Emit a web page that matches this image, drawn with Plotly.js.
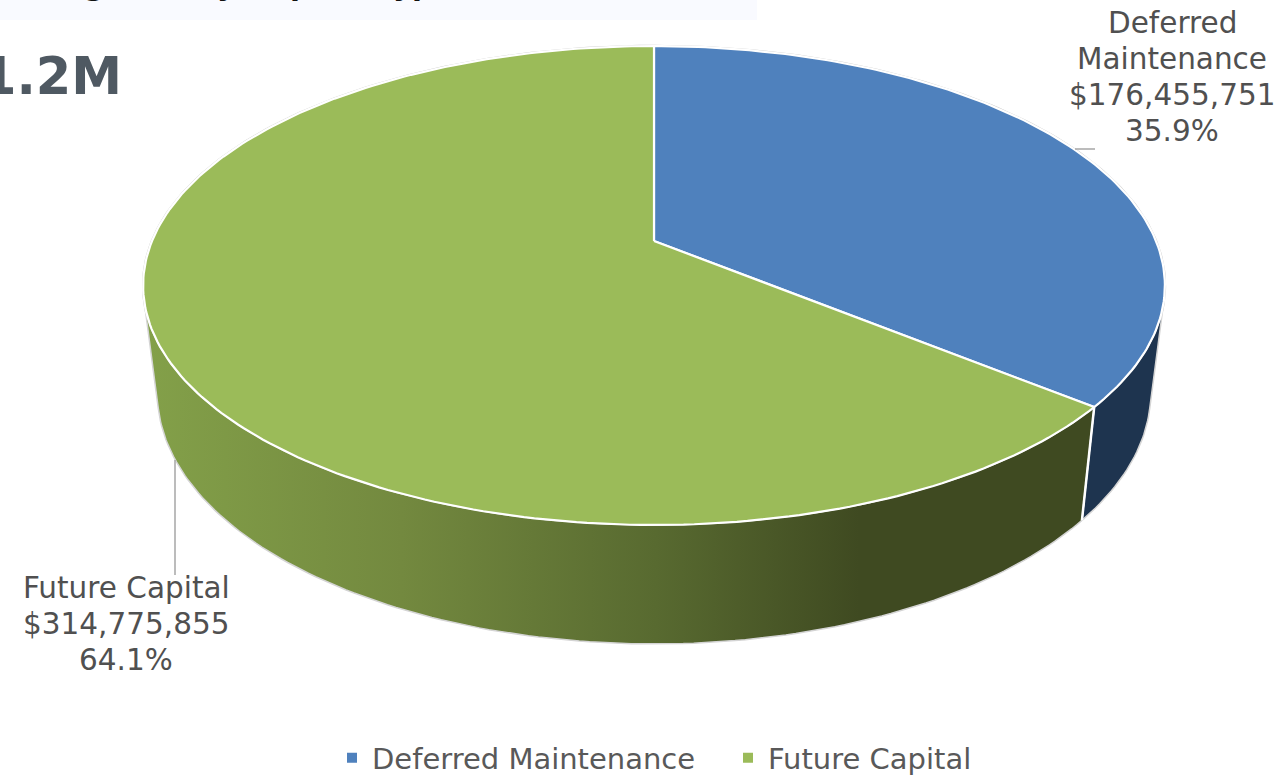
<!DOCTYPE html>
<html>
<head>
<meta charset="utf-8">
<script src="https://cdn.plot.ly/plotly-3.0.1.min.js"></script>
<style>html,body{margin:0;padding:0;background:#fff;overflow:hidden;height:778px}</style>
</head>
<body>
<div id="chart" style="width:1281px;height:820px"></div>
<script>
// Funding split by category
const categories = ["Deferred Maintenance", "Future Capital"];
const amounts = [176455751, 314775855];
const labelLines = [["Deferred", "Maintenance"], ["Future Capital"]];
const headlineText = "1.2M";
const bannerGlyphs = ["g", "y", "p", "yp"];

const total = amounts.reduce((a, b) => a + b, 0);
const font = "'DejaVu Sans', Verdana, sans-serif";
const textGrey = "#505050";

// The figure runs a little past the page's lower edge so the key keeps its place without pushing the plot
const figW = 1281, figH = 820;

// Tilted disc: perspective projection of a unit circle (angle clockwise from 12 o'clock)
const tilt = 0.1858;
const topDisc = {cx: 654, s: 502, y0: 241, c: 186.45};
const baseDisc = {cx: 654, s: 488, y0: 346.5, c: 177.8};
// Angles at which the wall silhouette leaves the discs
const wallStart = 104, wallEnd = 256;

function project(disc, deg) {
  const t = deg * Math.PI / 180, w = 1 + tilt * Math.cos(t);
  return [disc.cx + disc.s * Math.sin(t) / w, (disc.y0 - disc.c * Math.cos(t)) / w];
}
function arc(disc, from, to) {
  const xs = [], ys = [];
  const n = Math.max(2, Math.ceil(Math.abs(to - from)));
  for (let i = 0; i <= n; i++) {
    const p = project(disc, from + (to - from) * i / n);
    xs.push(p[0]); ys.push(p[1]);
  }
  return [xs, ys];
}

const split = 360 * amounts[0] / total;

function sideWall(from, to) {
  const a = arc(topDisc, from, to), b = arc(baseDisc, to, from);
  return [a[0].concat(b[0], [a[0][0]]), a[1].concat(b[1], [a[1][0]])];
}
function topSlice(from, to) {
  const a = arc(topDisc, from, to);
  return [[topDisc.cx].concat(a[0], [topDisc.cx]), [topDisc.y0].concat(a[1], [topDisc.y0])];
}

const traces = [];
const skip = {showlegend: false, hoverinfo: "skip"};

// Soft rim around the whole silhouette
const rim = arc(topDisc, 0, 360);
traces.push({type: "scatter", mode: "lines", x: rim[0], y: rim[1], line: {color: "#c9c9c9", width: 2.5}, ...skip});

// Side walls
const wallBlue = sideWall(wallStart, split);
traces.push({type: "scatter", mode: "lines", x: wallBlue[0], y: wallBlue[1], fill: "toself",
  fillcolor: "#1e344f", line: {color: "#d4d4d4", width: 1.5}, ...skip});
const wallGreen = sideWall(split, wallEnd);
traces.push({type: "scatter", mode: "lines", x: wallGreen[0], y: wallGreen[1], fill: "toself",
  fillgradient: {type: "horizontal", start: 147, stop: 1090,
    colorscale: [[0, "#83a049"], [0.27, "#73893f"], [0.54, "#586a30"], [0.755, "#3f4a21"], [1, "#3f4a21"]]},
  line: {color: "#d4d4d4", width: 1.5}, ...skip});

// White edge between the two walls
const eA = project(topDisc, split), eB = project(baseDisc, split);
traces.push({type: "scatter", mode: "lines", x: [eA[0], eB[0]], y: [eA[1], eB[1]],
  line: {color: "#ffffff", width: 2.5}, ...skip});

// Top faces
const faceBlue = topSlice(0, split), faceGreen = topSlice(split, 360);
traces.push({type: "scatter", mode: "lines", x: faceBlue[0], y: faceBlue[1], fill: "toself",
  fillcolor: "#4f81bd", line: {color: "#ffffff", width: 2.2}, ...skip});
traces.push({type: "scatter", mode: "lines", x: faceGreen[0], y: faceGreen[1], fill: "toself",
  fillcolor: "#9bbb59", line: {color: "#ffffff", width: 2.2}, ...skip});

// Leader lines
const leaderX = [[1075, 1095], [175, 175]], leaderY = [[149, 149], [460, 575]];
leaderX.forEach((x, i) => traces.push({type: "scatter", mode: "lines", x: x, y: leaderY[i],
  line: {color: "#a6a6a6", width: 1.5}, ...skip}));

// Legend entries
categories.forEach((name, i) => traces.push({type: "scatter", mode: "markers", x: [null], y: [null],
  name: name, marker: {symbol: "square", size: 10, color: ["#4f81bd", "#9bbb59"][i]}, hoverinfo: "skip"}));

function labelRows(i) {
  const pct = (100 * amounts[i] / total).toFixed(1) + "%";
  return labelLines[i].concat(["$" + amounts[i].toLocaleString("en-US"), pct]);
}
// Each label row sits on its own line so the leading can be set exactly
function labelAnnotations(i, cx, firstY) {
  return labelRows(i).map((row, k) => ({
    x: cx, y: firstY + 36 * k, xref: "x", yref: "y", xanchor: "center", yanchor: "middle",
    showarrow: false, text: row, font: {family: font, size: 29.5, color: textGrey}
  }));
}
// Lower edge of the banner heading, running off the top of the page
const bannerX = [94, 226, 300, 413];
const bannerAnnotations = bannerGlyphs.map((g, i) => ({
  x: bannerX[i], y: 3.5, xref: "x", yref: "y", xanchor: "center", yanchor: "bottom",
  showarrow: false, text: "<b>" + g + "</b>", font: {family: font, size: 29, color: "#111111"}
}));

const layout = {
  width: figW, height: figH,
  margin: {l: 0, r: 0, t: 0, b: 0},
  paper_bgcolor: "#ffffff", plot_bgcolor: "#ffffff",
  xaxis: {range: [0, figW], visible: false, fixedrange: true},
  yaxis: {range: [figH, 0], visible: false, fixedrange: true},
  font: {family: font, color: textGrey},
  shapes: [{type: "rect", xref: "x", yref: "y", x0: 0, x1: 757, y0: 0, y1: 20,
    fillcolor: "#f9faff", line: {width: 0}, layer: "below"}],
  legend: {orientation: "h", x: 332 / figW, xanchor: "left", y: (figH - 758) / figH, yanchor: "middle",
    font: {family: font, size: 29, color: "#595959"}, itemwidth: 30,
    entrywidth: 351, entrywidthmode: "pixels", bgcolor: "rgba(0,0,0,0)"},
  annotations: [
    {x: 124, y: 76, xref: "x", yref: "y", xanchor: "right", yanchor: "middle", showarrow: false,
     text: "<b>" + headlineText + "</b>", font: {family: font, size: 51, color: "#4f5962"}}
  ].concat(labelAnnotations(0, 1172, 23), labelAnnotations(1, 126, 588), bannerAnnotations)
};

Plotly.newPlot("chart", traces, layout, {displayModeBar: false, staticPlot: true});
</script>
</body>
</html>
